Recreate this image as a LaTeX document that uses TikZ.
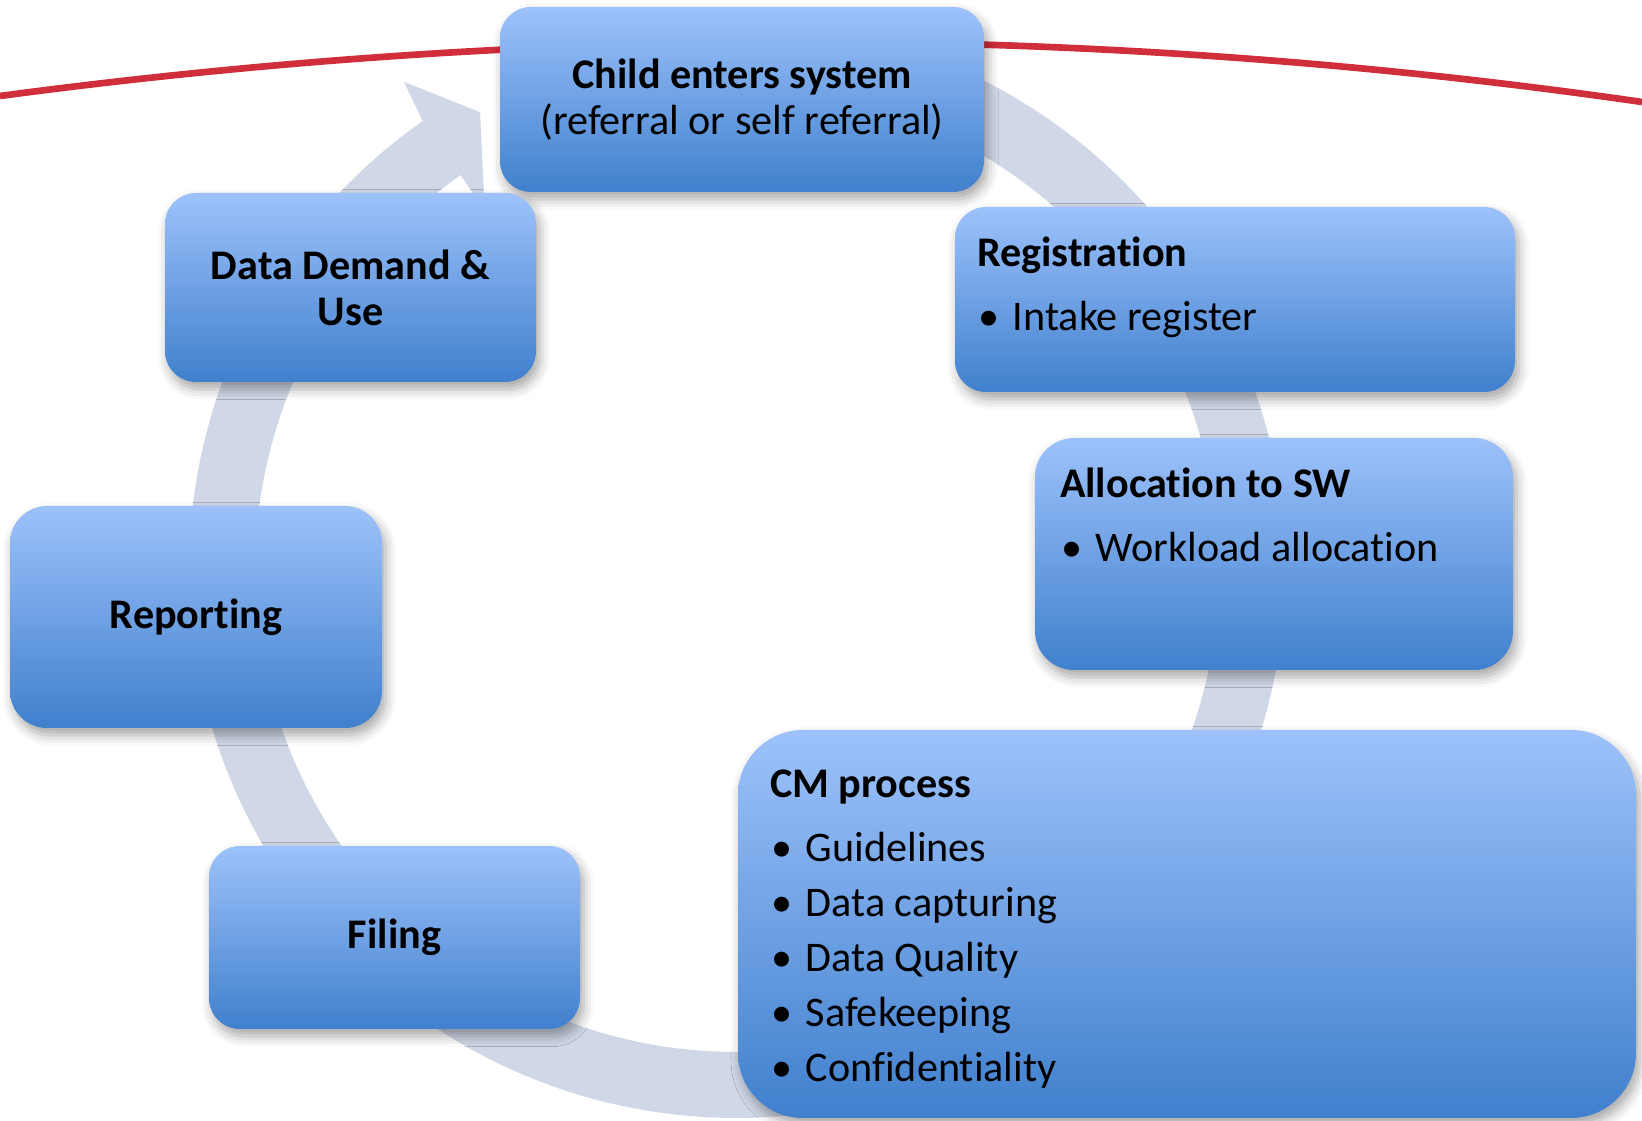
\documentclass[tikz,border=0pt]{standalone}
\usepackage{fontspec}
\setmainfont{Carlito}[Ligatures={NoCommon}]
\usetikzlibrary{positioning,calc,shadows.blur}
\definecolor{boxtop}{RGB}{157,194,251}
\definecolor{boxbot}{RGB}{64,128,205}
\definecolor{ringgrey}{RGB}{208,216,231}
\definecolor{linered}{RGB}{208,46,58}
\newcommand{\bul}{\makebox[10.2pt][l]{\hspace{0.5pt}\textbullet}}
\tikzset{
  stage/.style={draw=none, top color=boxtop, bottom color=boxbot, inner sep=0pt,
    blur shadow={shadow xshift=1pt, shadow yshift=-2pt, shadow blur radius=3pt, shadow opacity=35}},
  boxtitle/.style={font=\fontsize{12}{13.1}\selectfont\bfseries, align=center},
  listtxt/.style={font=\fontsize{12}{15.65}\selectfont, align=left, anchor=north west, inner sep=0pt},
  ring/.style={draw=ringgrey, line width=0.66cm},
  redline/.style={draw=linered, line width=1.9pt},
}
\begin{document}
\begin{tikzpicture}
    \useasboundingbox (0,0) rectangle (16.42,-11.21);
    % red line
    \coordinate (redL) at (0,-0.96);
    \coordinate (redR) at (16.42,-1.02);
    \draw[redline] (redL) .. controls (5.47,-0.23) and (10.95,-0.23) .. (redR);
    % ring with arrow
    \begin{scope}[shift={(7.37,-5.70)}]
        \draw[ring] (90:5.15) arc[start angle=90, end angle=-235, radius=5.15];
        \fill[ringgrey] (125:5.48) -- (124.3:5.91) -- (119.3:5.25) -- (125:4.40) -- (125:4.82) -- cycle;
    \end{scope}
    % boxes
    \node[stage, boxtitle, minimum width=4.84cm, minimum height=1.85cm, rounded corners=0.31cm] (child) at (7.42,-0.995)
        {Child enters system\\\mdseries (referral or self referral)};
    \node[stage, minimum width=5.60cm, minimum height=1.85cm, rounded corners=0.31cm] (reg) at (12.35,-2.995) {};
    \node[stage, minimum width=4.78cm, minimum height=2.32cm, rounded corners=0.39cm] (alloc) at (12.74,-5.54) {};
    \node[stage, minimum width=8.98cm, minimum height=3.88cm, rounded corners=0.65cm] (cm) at (11.87,-9.24) {};
    \node[stage, boxtitle, minimum width=3.71cm, minimum height=1.83cm, rounded corners=0.31cm] (filing) at (3.945,-9.375) {Filing};
    \node[stage, boxtitle, minimum width=3.72cm, minimum height=2.22cm, rounded corners=0.37cm] (report) at (1.96,-6.17) {Reporting};
    \node[stage, boxtitle, minimum width=3.71cm, minimum height=1.89cm, rounded corners=0.31cm] (data) at (3.505,-2.875) {Data Demand \&\\Use};
    % box texts
    \node[listtxt] (regtxt) at ([xshift=0.22cm, yshift=-0.30cm]reg.north west)
        {\textbf{Registration}\\[2.6pt]\bul Intake register};
    \node[listtxt] (alloctxt) at ([xshift=0.25cm, yshift=-0.30cm]alloc.north west)
        {\textbf{Allocation to SW}\\[2.6pt]\bul Workload allocation};
    \node[listtxt] (cmtxt) at ([xshift=0.32cm, yshift=-0.40cm]cm.north west)
        {\textbf{CM process}\\[2.6pt]\bul Guidelines\\\bul Data capturing\\\bul Data Quality\\\bul Safekeeping\\\bul Confidentiality};
\end{tikzpicture}
\end{document}
